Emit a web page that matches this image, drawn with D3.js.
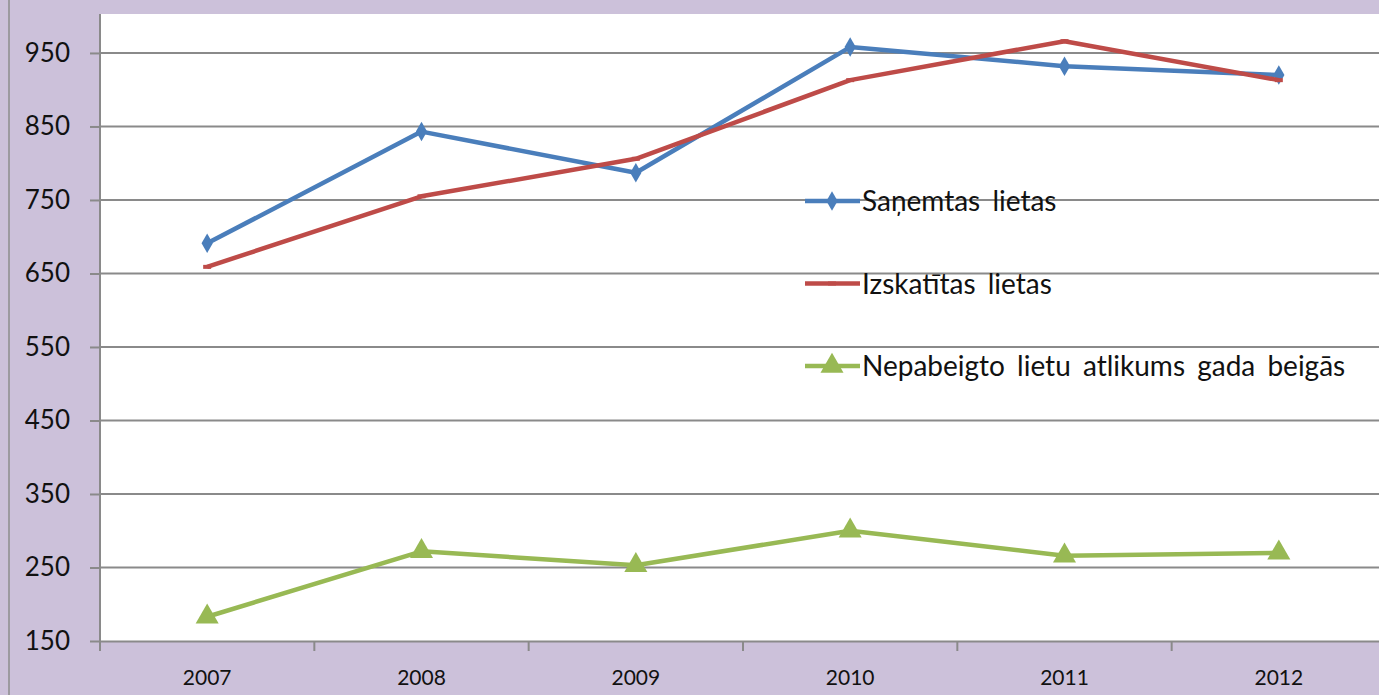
<!DOCTYPE html>
<html>
<head>
<meta charset="utf-8">
<script src="https://cdn.jsdelivr.net/npm/d3@7"></script>
<style>
  body { margin: 0; background: #ccc1da; }
  svg { display: block; }
</style>
</head>
<body>
<div id="chart"></div>
<script>
var years = ['2007', '2008', '2009', '2010', '2011', '2012'];
var received = [691, 843, 787, 958, 932, 920];
var examined = [659, 755, 806, 913, 966, 913];
var pending = [183, 272, 253, 300, 266, 270];
var yTicks = [150, 250, 350, 450, 550, 650, 750, 850, 950];

var series = [
    { name: 'Saņemtas lietas', values: received, color: '#4a7ebb', marker: 'diamond' },
    { name: 'Izskatītas lietas', values: examined, color: '#be4b48', marker: 'dash' },
    { name: 'Nepabeigto lietu atlikums gada beigās', values: pending, color: '#98b954', marker: 'triangle' }
];

var W = 1379, H = 695;
var margin = {top: 14, right: -7, bottom: 54, left: 100};
var width = W - margin.left - margin.right,
    height = H - margin.top - margin.bottom;
var font = 'Lato, "Open Sans", sans-serif';

var svg = d3.select('#chart').append('svg').attr('width', W).attr('height', H);

// outer frame line on the left
svg.append('line')
    .attr('x1', 9).attr('x2', 9).attr('y1', 0).attr('y2', H)
    .attr('stroke', '#8c8c8c').attr('stroke-width', 1.5);

var g = svg.append('g').attr('transform', 'translate(' + margin.left + ',' + margin.top + ')');

var x = d3.scaleBand().domain(years).range([0, width]);
var y = d3.scaleLinear().domain([150, 1003]).range([height, 0]);

g.append('rect').attr('width', width).attr('height', height).attr('fill', '#fff');

// gridlines
g.append('g')
    .selectAll('line')
    .data(yTicks.slice(1))
    .enter().append('line')
    .attr('x1', 0).attr('x2', width)
    .attr('y1', function (d) { return y(d); })
    .attr('y2', function (d) { return y(d); })
    .attr('stroke', '#8a8a8a').attr('stroke-width', 2);

// y axis
var yAxis = g.append('g')
    .call(d3.axisLeft(y).tickValues(yTicks).tickSize(10).tickPadding(20));
yAxis.select('.domain').attr('stroke', '#8a8a8a').attr('stroke-width', 2).attr('d', 'M0,0V' + height);
yAxis.selectAll('.tick line').attr('stroke', '#8a8a8a').attr('stroke-width', 2);
yAxis.selectAll('text').attr('font-family', font).attr('font-size', 26).attr('fill', '#111');

// x axis
var xAxis = g.append('g')
    .attr('transform', 'translate(0,' + height + ')')
    .call(d3.axisBottom(x).tickSize(0).tickPadding(29));
xAxis.select('.domain').attr('stroke', '#8a8a8a').attr('stroke-width', 2);
xAxis.selectAll('text').attr('font-family', font).attr('font-size', 21).attr('fill', '#111');
xAxis.append('g')
    .selectAll('line')
    .data(years)
    .enter().append('line')
    .attr('x1', function (d) { return x(d); })
    .attr('x2', function (d) { return x(d); })
    .attr('y1', 0).attr('y2', 10)
    .attr('stroke', '#8a8a8a').attr('stroke-width', 2);

var line = d3.line()
    .x(function (d, i) { return x(years[i]) + x.bandwidth() / 2; })
    .y(function (d) { return y(d); });

function drawMarker(sel, type, color) {
    if (type === 'diamond') {
        sel.append('path').attr('d', d3.symbol().type(d3.symbolDiamond).size(110)).attr('fill', color);
    } else if (type === 'triangle') {
        sel.append('path').attr('d', d3.symbol().type(d3.symbolTriangle).size(230)).attr('fill', color);
    } else {
        sel.append('rect').attr('x', -4).attr('y', -2).attr('width', 8).attr('height', 4).attr('fill', color);
    }
}

series.forEach(function (s) {
    g.append('path')
        .datum(s.values)
        .attr('fill', 'none')
        .attr('stroke', s.color)
        .attr('stroke-width', 4.5)
        .attr('stroke-linejoin', 'round')
        .attr('d', line);

    g.append('g')
        .selectAll('g')
        .data(s.values)
        .enter().append('g')
        .attr('transform', function (d, i) {
            return 'translate(' + (x(years[i]) + x.bandwidth() / 2) + ',' + y(d) + ')';
        })
        .each(function () { drawMarker(d3.select(this), s.marker, s.color); });
});

// legend
var legend = svg.append('g')
    .selectAll('g')
    .data(series)
    .enter().append('g')
    .attr('transform', function (d, i) { return 'translate(805,' + (201 + i * 82.5) + ')'; });

legend.append('line')
    .attr('x1', 0).attr('x2', 55)
    .attr('stroke', function (d) { return d.color; })
    .attr('stroke-width', 4.5);

legend.append('g')
    .attr('transform', 'translate(27,0)')
    .each(function (d) { drawMarker(d3.select(this), d.marker, d.color); });

legend.append('text')
    .attr('x', 57)
    .attr('dy', '0.36em')
    .attr('font-family', font)
    .attr('font-size', 28)
    .attr('fill', '#111')
    .style('word-spacing', '5px')
    .text(function (d) { return d.name; });
</script>
</body>
</html>
